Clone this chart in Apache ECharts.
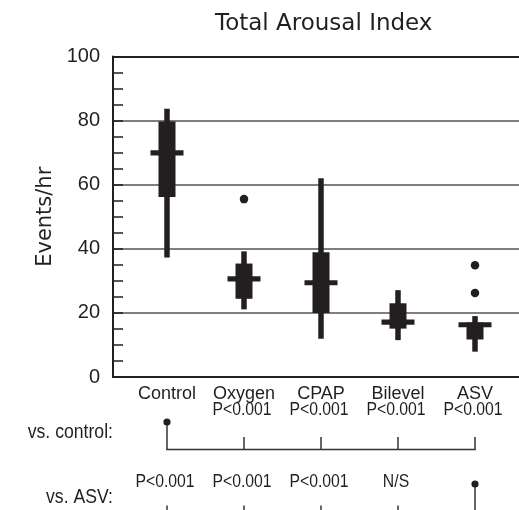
<!DOCTYPE html>
<html><head><meta charset="utf-8">
<script src="https://cdn.jsdelivr.net/npm/echarts@6/dist/echarts.min.js"></script>
<style>html,body{margin:0;padding:0;background:#fff}#c{width:519px;height:510px}</style>
</head><body><div id="c"></div>
<script>
const categories = ['Control', 'Oxygen', 'CPAP', 'Bilevel', 'ASV'];
const whiskerLow  = [37.3, 21.1, 11.9, 11.5, 7.9];
const q1          = [56.2, 24.4, 20.0, 15.1, 11.7];
const median      = [69.9, 30.6, 29.4, 17.1, 16.3];
const q3          = [79.7, 35.4, 38.9, 23.0, 17.0];
const whiskerHigh = [83.7, 39.2, 62.0, 27.1, 19.0];
const outliers = [['Oxygen', 55.5], ['ASV', 34.9], ['ASV', 26.2]];
const yMin = 0, yMax = 100, yStep = 20;
const vsControl = ['', 'P<0.001', 'P<0.001', 'P<0.001', 'P<0.001'];
const vsASV = ['P<0.001', 'P<0.001', 'P<0.001', 'N/S', ''];
const vsControlRef = 'Control';
const vsASVRef = 'ASV';

const INK = '#231f20';
const SANS = '"Liberation Sans", Arial, sans-serif';
const WIDE = '"DejaVu Sans", sans-serif';

const chart = echarts.init(document.getElementById('c'), null, {renderer: 'canvas'});
const G = {top: 56.5, height: 320.5};

chart.setOption({
  animation: false,
  backgroundColor: '#fff',
  title: {
    text: 'Total Arousal Index', left: 210, top: 8,
    textStyle: {fontFamily: WIDE, fontSize: 23, fontWeight: 'normal', color: INK}
  },
  grid: [
    {left: 113, width: 406, top: G.top, height: G.height},
    {left: 128.5, width: 385, top: G.top, height: G.height}
  ],
  xAxis: [
    {gridIndex: 0, type: 'value', min: 0, max: 1, position: 'bottom',
     axisLine: {show: true, lineStyle: {color: INK, width: 2}},
     axisTick: {show: false}, axisLabel: {show: false}, splitLine: {show: false}},
    {gridIndex: 0, type: 'value', min: 0, max: 1, position: 'top',
     axisLine: {show: true, lineStyle: {color: INK, width: 2}},
     axisTick: {show: false}, axisLabel: {show: false}, splitLine: {show: false}},
    {gridIndex: 1, type: 'category', data: categories, boundaryGap: true,
     axisLine: {show: false}, axisTick: {show: false},
     axisLabel: {interval: 0, margin: 8, fontFamily: SANS, fontSize: 18, color: INK}}
  ],
  yAxis: [
    {gridIndex: 0, type: 'value', min: yMin, max: yMax, interval: yStep,
     name: 'Events/hr', nameLocation: 'middle', nameGap: 57,
     nameTextStyle: {fontFamily: WIDE, fontSize: 21, color: INK},
     axisLine: {show: true, lineStyle: {color: INK, width: 2}},
     axisTick: {show: true, inside: true, length: 10, lineStyle: {color: INK, width: 1.5}},
     minorTick: {show: true, splitNumber: 4, length: 10, lineStyle: {color: INK, width: 1.5}},
     axisLabel: {margin: 13, fontFamily: SANS, fontSize: 20, color: INK},
     splitLine: {show: true, lineStyle: {color: '#555', width: 1.5}}},
    {gridIndex: 1, type: 'value', min: yMin, max: yMax, show: false}
  ],
  series: [
    {
      type: 'custom', xAxisIndex: 2, yAxisIndex: 1,
      data: categories.map((c, i) => [i, whiskerLow[i], q1[i], median[i], q3[i], whiskerHigh[i]]),
      encode: {x: 0, y: [1, 2, 3, 4, 5]},
      renderItem(params, api) {
        const x = api.value(0);
        const lo = api.coord([x, api.value(1)]);
        const b1 = api.coord([x, api.value(2)]);
        const m = api.coord([x, api.value(3)]);
        const b3 = api.coord([x, api.value(4)]);
        const hi = api.coord([x, api.value(5)]);
        const cx = lo[0];
        return {type: 'group', children: [
          {type: 'rect', shape: {x: cx - 2.75, y: hi[1], width: 5.5, height: lo[1] - hi[1]}, style: {fill: INK}},
          {type: 'rect', shape: {x: cx - 8.5, y: b3[1], width: 17, height: b1[1] - b3[1]}, style: {fill: INK}},
          {type: 'rect', shape: {x: cx - 16.5, y: m[1] - 2.6, width: 33, height: 5.2}, style: {fill: INK}}
        ]};
      }
    },
    {
      type: 'scatter', xAxisIndex: 2, yAxisIndex: 1,
      data: outliers, symbol: 'circle', symbolSize: 8.5,
      itemStyle: {color: INK, opacity: 1}
    }
  ]
});

function drawAnnotations() {
  const xs = categories.map(c => chart.convertToPixel({xAxisIndex: 2}, c));
  const els = [];
  const LW = 1.5, LC = '#333';
  const txt = (x, y, s, align, size, sx) => ({
    type: 'text', x: x, y: y, scaleX: sx,
    style: {text: s, fill: INK, font: size + 'px ' + SANS, textAlign: align, textVerticalAlign: 'middle'}
  });
  const line = (x1, y1, x2, y2) => ({type: 'line', shape: {x1, y1, x2, y2}, style: {stroke: LC, lineWidth: LW}});
  const dot = (x, y) => ({type: 'circle', shape: {cx: x, cy: y, r: 3.6}, style: {fill: INK}});

  // row 1: vs. control
  els.push(txt(113, 432, 'vs. control:', 'right', 21, 0.84));
  const ci = categories.indexOf(vsControlRef);
  xs.forEach((x, i) => {
    if (vsControl[i]) els.push(txt(x - 2, 410, vsControl[i], 'center', 19, 0.83));
    if (i === ci) { els.push(line(x, 422, x, 449.5)); els.push(dot(x, 422)); }
    else els.push(line(x, 437, x, 449.5));
  });
  els.push(line(xs[0] - 0.75, 449.5, xs[xs.length - 1] + 0.75, 449.5));

  // row 2: vs. ASV
  els.push(txt(113, 497, 'vs. ASV:', 'right', 21, 0.84));
  const ai = categories.indexOf(vsASVRef);
  xs.forEach((x, i) => {
    if (vsASV[i]) els.push(txt(x - 2, 482, vsASV[i], 'center', 19, 0.83));
    if (i === ai) { els.push(line(x, 484, x, 515)); els.push(dot(x, 484)); }
    else els.push(line(x, 505.5, x, 515));
  });
  chart.setOption({graphic: {elements: els}});
}
drawAnnotations();
</script>
</body></html>
